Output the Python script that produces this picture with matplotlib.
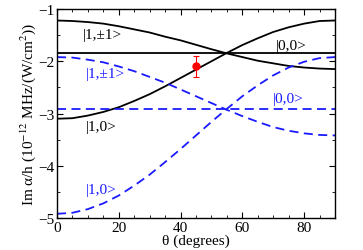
import numpy as np
import matplotlib
matplotlib.use("Agg")
import matplotlib.pyplot as plt

plt.rcParams['font.family'] = ['Liberation Serif', 'DejaVu Serif']
plt.rcParams['mathtext.fontset'] = 'stix'

theta = [0, 5, 10, 15, 20, 25, 30, 35, 40, 45, 50, 55, 60, 65, 70, 75, 80, 85, 90]
black_11 = [-1.22, -1.23, -1.25, -1.28, -1.33, -1.39, -1.45, -1.53, -1.60, -1.685, -1.77, -1.85, -1.92, -1.99, -2.04, -2.09, -2.12, -2.14, -2.15]
black_10 = [-3.10, -3.09, -3.04, -2.97, -2.88, -2.76, -2.63, -2.48, -2.32, -2.16, -2.00, -1.84, -1.69, -1.56, -1.44, -1.35, -1.28, -1.23, -1.22]
black_00 = [-1.85] * 19
blue_11 = [-1.92, -1.93, -1.97, -2.02, -2.10, -2.19, -2.30, -2.41, -2.54, -2.67, -2.80, -2.93, -3.05, -3.16, -3.26, -3.33, -3.38, -3.41, -3.42]
blue_10 = [-4.92, -4.90, -4.83, -4.72, -4.57, -4.38, -4.17, -3.93, -3.68, -3.42, -3.16, -2.91, -2.67, -2.46, -2.27, -2.12, -2.01, -1.94, -1.92]
blue_00 = [-2.92] * 19
exp_theta = [45]
exp_val = [-2.10]
exp_err = [0.20]

fig = plt.figure(figsize=(3.63, 2.51), dpi=100)
ax = fig.add_axes([57/363, 1 - 219/251, 278/363, 209/251])

ax.plot(theta, black_11, color='black', lw=1.3)
ax.plot(theta, black_10, color='black', lw=1.3)
ax.plot(theta, black_00, color='black', lw=1.3)
blue = '#1a1aff'
ax.plot(theta, blue_11, color=blue, lw=1.3, ls=(0, (5, 3)))
ax.plot(theta, blue_10, color=blue, lw=1.3, ls=(0, (5, 3)))
ax.plot(theta, blue_00, color=blue, lw=1.3, ls=(0, (5, 3)))
ax.errorbar(exp_theta, exp_val, yerr=exp_err, fmt='o', color='red', ms=5,
            ecolor='red', elinewidth=0.8, capsize=2.5, capthick=0.8, zorder=5)

fs = 11
ax.text(8.5, -1.48, '|1,±1>', color='black', fontsize=fs, va='center')
ax.text(71, -1.7, '|0,0>', color='black', fontsize=fs, va='center')
ax.text(9.5, -2.24, '|1,±1>', color=blue, fontsize=fs, va='center')
ax.text(9.5, -3.24, '|1,0>', color='black', fontsize=fs, va='center')
ax.text(70, -2.72, '|0,0>', color=blue, fontsize=fs, va='center')
ax.text(9.5, -4.45, '|1,0>', color=blue, fontsize=fs, va='center')

ax.set_xlim(0, 90)
ax.set_ylim(-5, -1)
ax.set_xticks([0, 20, 40, 60, 80])
ax.set_yticks([-5, -4, -3, -2, -1])
ax.set_xticks(np.arange(0, 91, 5), minor=True)
ax.set_yticks(np.arange(-5, -0.9, 0.5), minor=True)
ax.tick_params(which='both', direction='in', top=True, right=True, labelsize=fs)
ax.tick_params(which='major', length=4, pad=2)
ax.tick_params(which='minor', length=2.5)
for s in ax.spines.values():
    s.set_linewidth(1.0)

ax.set_xlabel('θ (degrees)', fontsize=fs, labelpad=0)
ax.set_ylabel('Im α/h (10$^{-12}$ MHz/(W/cm$^{2}$))', fontsize=fs, labelpad=0)

fig.savefig('out.png', dpi=100)
